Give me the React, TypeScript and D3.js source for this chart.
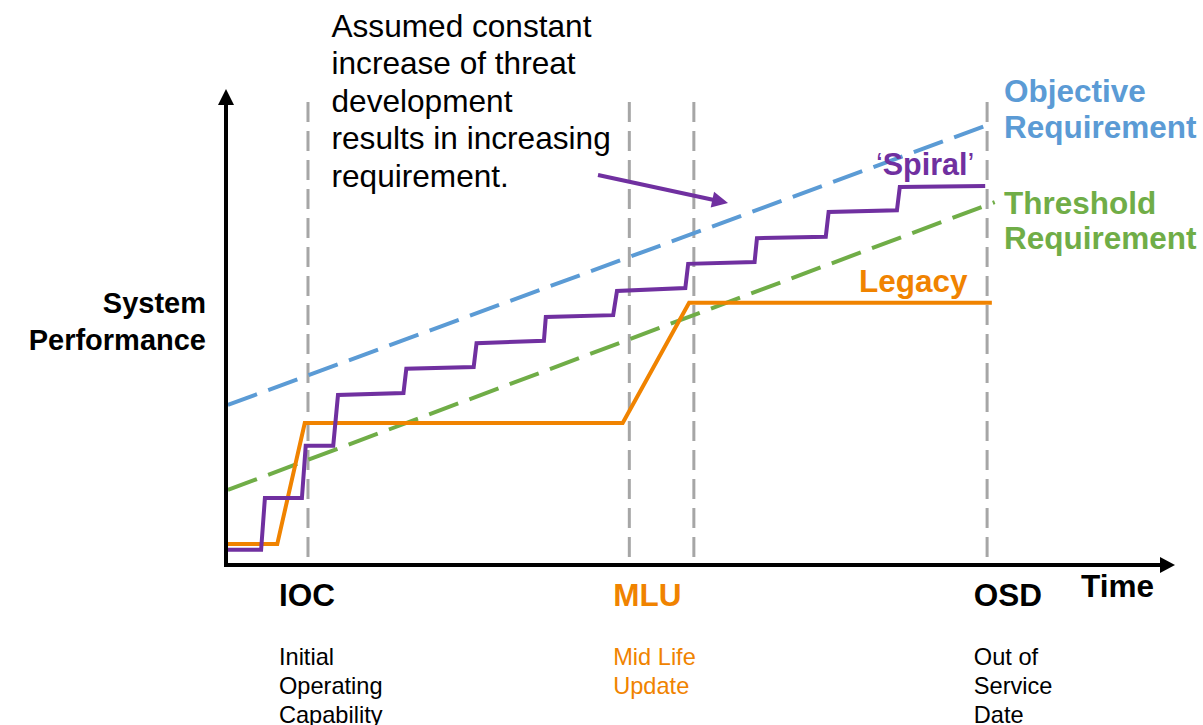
import React from 'react';
import * as d3 from 'd3';

const W = 1203;
const H = 725;

// Data (time 0..100 along x axis, performance 0..100 along y axis)
const spiralT = [0.2, 3.7, 4.1, 8.0, 8.4, 11.3, 11.8, 18.7, 19.0, 26.1, 26.4, 33.5, 33.7, 40.8, 41.2, 48.4, 48.7, 55.7, 55.95, 63.2, 63.5, 70.7, 71.0, 80.0];
const spiralV = [3.2, 3.2, 14.1, 14.1, 25.1, 25.1, 35.8, 36.2, 41.3, 41.7, 46.7, 47.2, 52.2, 52.6, 57.7, 58.3, 63.4, 63.8, 68.8, 69.1, 74.3, 74.7, 79.6, 79.8];
const legacyT = [0.2, 5.4, 8.3, 41.8, 48.8, 80.7];
const legacyV = [4.4, 4.4, 29.9, 29.9, 55.2, 55.2];
const objectiveT = [0.2, 80.2];
const objectiveV = [33.7, 92.6];
const thresholdT = [0.2, 81.0];
const thresholdV = [15.8, 76.4];
const milestoneT = [8.64, 42.5, 49.3, 80.2];
const milestoneTop = 97.5;
const milestoneLabels = ['IOC', 'MLU', 'OSD'];
const milestoneLabelT = [5.58, 40.8, 78.8];
const milestoneDesc = [['Initial', 'Operating', 'Capability'], ['Mid Life', 'Update'], ['Out of', 'Service', 'Date']];
const annotationLines = ['Assumed constant', 'increase of threat', 'development', 'results in increasing', 'requirement.'];
const annotArrowT = [39.2, 52.9];
const annotArrowV = [82.1, 76.2];

const C = {
  blue: '#5B9BD5',
  green: '#70AD47',
  orange: '#F08300',
  purple: '#7030A0',
  gray: '#A6A6A6',
  black: '#000000',
};
const FONT = '"Liberation Sans", Arial, Helvetica, sans-serif';
const BOLD = 31.5;
const SMALL = 23.6;

const x = d3.scaleLinear().domain([0, 100]).range([226, 1175]);
const y = d3.scaleLinear().domain([0, 100]).range([565, 90]);

const lineGen = d3
  .line<[number, number]>()
  .x((d) => x(d[0]))
  .y((d) => y(d[1]));

const zip = (a: number[], b: number[]): [number, number][] => a.map((v, i) => [v, b[i]]);

function arrowHead(x1: number, y1: number, x2: number, y2: number, len: number, half: number) {
  const dx = x2 - x1;
  const dy = y2 - y1;
  const L = Math.sqrt(dx * dx + dy * dy);
  const ux = dx / L;
  const uy = dy / L;
  const bx = x2 - ux * len;
  const by = y2 - uy * len;
  const px = -uy;
  const py = ux;
  return `${x2},${y2} ${bx + px * half},${by + py * half} ${bx - px * half},${by - py * half}`;
}

export default function App() {
  const ax0 = x(0);
  const ay0 = y(0);
  const yTip = 89;
  const xTip = 1175;

  const a1x = x(annotArrowT[0]);
  const a1y = y(annotArrowV[0]);
  const a2x = x(annotArrowT[1]);
  const a2y = y(annotArrowV[1]);
  const aL = Math.hypot(a2x - a1x, a2y - a1y);
  const aEndX = a2x - ((a2x - a1x) / aL) * 12;
  const aEndY = a2y - ((a2y - a1y) / aL) * 12;

  return (
    <svg
      width={W}
      height={H}
      viewBox={`0 0 ${W} ${H}`}
      style={{ position: 'absolute', left: 0, top: 0, display: 'block', background: '#fff' }}
      fontFamily={FONT}
    >
      <rect x={0} y={0} width={W} height={H} fill="#fff" />

      {/* milestone dashed verticals */}
      {milestoneT.map((t, i) => (
        <line
          key={`m${i}`}
          x1={x(t)}
          x2={x(t)}
          y1={y(milestoneTop)}
          y2={ay0}
          stroke={C.gray}
          strokeWidth={3}
          strokeDasharray="20 9"
        />
      ))}

      {/* requirement lines */}
      <path d={lineGen(zip(objectiveT, objectiveV)) || ''} fill="none" stroke={C.blue} strokeWidth={4} strokeDasharray="31 12" />
      <path d={lineGen(zip(thresholdT, thresholdV)) || ''} fill="none" stroke={C.green} strokeWidth={4} strokeDasharray="31 12" />

      {/* legacy */}
      <path d={lineGen(zip(legacyT, legacyV)) || ''} fill="none" stroke={C.orange} strokeWidth={4} strokeLinejoin="miter" />
      {/* spiral */}
      <path d={lineGen(zip(spiralT, spiralV)) || ''} fill="none" stroke={C.purple} strokeWidth={4} strokeLinejoin="miter" />

      {/* axes */}
      <line x1={ax0} x2={ax0} y1={ay0 + 2} y2={yTip + 14} stroke={C.black} strokeWidth={4} />
      <polygon points={arrowHead(ax0, ay0, ax0, yTip, 16, 8)} fill={C.black} />
      <line x1={ax0 - 2} x2={xTip - 14} y1={ay0} y2={ay0} stroke={C.black} strokeWidth={4} />
      <polygon points={arrowHead(ax0, ay0, xTip, ay0, 15, 8)} fill={C.black} />

      {/* annotation arrow */}
      <line x1={a1x} y1={a1y} x2={aEndX} y2={aEndY} stroke={C.purple} strokeWidth={4} />
      <polygon points={arrowHead(a1x, a1y, a2x, a2y, 16, 8)} fill={C.purple} />

      {/* annotation text */}
      <text x={331.5} y={36.5} fontSize={31.6} fill={C.black}>
        {annotationLines.map((l, i) => (
          <tspan key={i} x={331.5} dy={i === 0 ? 0 : 37.6}>
            {l}
          </tspan>
        ))}
      </text>

      {/* y label */}
      <text x={206} y={313} fontSize={29} fontWeight="bold" textAnchor="end" fill={C.black}>
        System
      </text>
      <text x={206} y={350} fontSize={29} fontWeight="bold" textAnchor="end" fill={C.black}>
        Performance
      </text>

      {/* series labels */}
      <text x={1004} y={102} fontSize={BOLD} fontWeight="bold" fill={C.blue}>
        <tspan x={1004}>Objective</tspan>
        <tspan x={1004} dy={35.5}>Requirement</tspan>
      </text>
      <text x={1004} y={213.5} fontSize={BOLD} fontWeight="bold" fill={C.green}>
        <tspan x={1004}>Threshold</tspan>
        <tspan x={1004} dy={35.5}>Requirement</tspan>
      </text>
      <text x={876} y={175} fontSize={30.5} fill={C.purple}>
        <tspan>{'\u2018'}</tspan>
        <tspan fontWeight="bold">Spiral</tspan>
        <tspan>{'\u2019'}</tspan>
      </text>
      <text x={859} y={292} fontSize={BOLD} fontWeight="bold" fill={C.orange}>
        Legacy
      </text>

      {/* x axis label */}
      <text x={1081} y={597} fontSize={BOLD} fontWeight="bold" fill={C.black}>
        Time
      </text>

      {/* milestones labels */}
      {milestoneLabels.map((lab, i) => {
        const col = i === 1 ? C.orange : C.black;
        const lx = x(milestoneLabelT[i]);
        return (
          <g key={lab}>
            <text x={lx} y={606} fontSize={BOLD} fontWeight="bold" fill={col}>
              {lab}
            </text>
            <text x={lx} y={665} fontSize={SMALL} fill={col}>
              {milestoneDesc[i].map((d, j) => (
                <tspan key={j} x={lx} dy={j === 0 ? 0 : 29}>
                  {d}
                </tspan>
              ))}
            </text>
          </g>
        );
      })}
    </svg>
  );
}
